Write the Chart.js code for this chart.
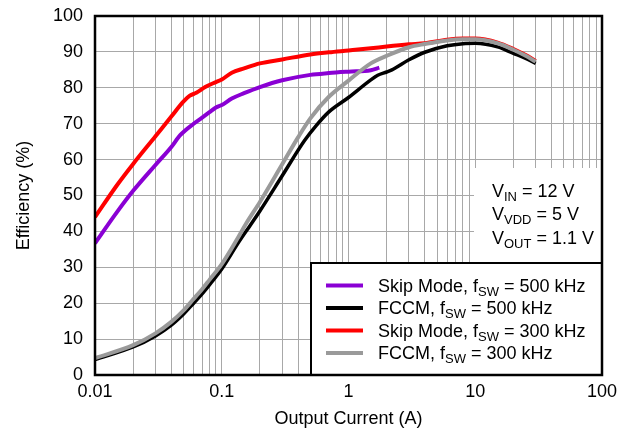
<!DOCTYPE html>
<html>
<head>
<meta charset="utf-8">
<script src="https://cdn.jsdelivr.net/npm/chart.js@4.4.1/dist/chart.umd.min.js"></script>
<style>
  body { margin: 0; background: #fff; }
  #wrap { width: 628px; height: 430px; }
</style>
</head>
<body>
<div id="wrap"><canvas id="chart" width="628" height="430"></canvas></div>
<script>
// data (A, %)
const skip500Current = [0.01, 0.015, 0.02, 0.03, 0.04, 0.047, 0.06, 0.07, 0.08, 0.09, 0.1, 0.12, 0.15, 0.2, 0.3, 0.5, 0.7, 1, 1.5, 1.75];
const skip500Eff     = [36.7, 45.5, 51.3, 58.5, 63.5, 66.8, 70, 71.7, 73.2, 74.5, 75.2, 77, 78.5, 80.2, 82.1, 83.6, 84.1, 84.5, 84.9, 85.6];

const fccm500Current = [0.01, 0.02, 0.03, 0.04, 0.05, 0.06, 0.07, 0.08, 0.1, 0.135, 0.167, 0.2, 0.3, 0.45, 0.56, 0.7, 1, 1.5, 1.7, 2, 2.2, 3, 4, 6, 8, 10, 15, 20, 25, 30];
const fccm500Eff     = [4.3, 7.8, 10.9, 13.9, 17, 20, 22.6, 25.1, 29.5, 36.8, 41.6, 45.7, 55.5, 65.3, 69.6, 73.3, 77.3, 82.2, 83.5, 84.4, 85, 87.8, 89.9, 91.7, 92.3, 92.4, 91.4, 89.6, 88.2, 86.8];

const skip300Current = [0.01, 0.015, 0.02, 0.03, 0.04, 0.05, 0.056, 0.063, 0.074, 0.09, 0.1, 0.12, 0.15, 0.2, 0.3, 0.5, 0.7, 1, 1.5, 2, 3, 4, 6, 8, 10, 15, 20, 25, 30];
const skip300Eff     = [44, 53, 58.8, 66.5, 72, 76.2, 77.8, 78.6, 80.2, 81.6, 82.3, 84.2, 85.4, 86.8, 87.9, 89.3, 89.9, 90.4, 91, 91.5, 92.1, 92.4, 93.4, 93.7, 93.7, 92.6, 90.8, 89.1, 87.5];

const fccm300Current = [0.01, 0.02, 0.03, 0.04, 0.05, 0.06, 0.07, 0.08, 0.1, 0.131, 0.157, 0.2, 0.3, 0.4, 0.5, 0.7, 1, 1.5, 2, 3, 4, 6, 8, 10, 15, 20, 25, 30];
const fccm300Eff     = [4.7, 8.3, 11.6, 14.8, 18, 21.2, 23.9, 26.5, 30.9, 37.6, 42.4, 48.2, 58.7, 66.2, 71.5, 77.5, 82, 86.8, 88.9, 91.3, 92.2, 93.2, 93.5, 93.5, 92.4, 90.6, 88.9, 87.3];

const xTickLabels = [0.01, 0.1, 1, 10, 100];
const yTicks = [0, 10, 20, 30, 40, 50, 60, 70, 80, 90, 100];

const legendItems = [
  { color: '#8a00d4', parts: [['Skip Mode, f', 0], ['SW', 1], [' = 500 kHz', 0]] },
  { color: '#000000', parts: [['FCCM, f', 0], ['SW', 1], [' = 500 kHz', 0]] },
  { color: '#ff0000', parts: [['Skip Mode, f', 0], ['SW', 1], [' = 300 kHz', 0]] },
  { color: '#9a9a9a', parts: [['FCCM, f', 0], ['SW', 1], [' = 300 kHz', 0]] }
];
const conditions = [
  [['V', 0], ['IN', 1], [' = 12 V', 0]],
  [['V', 0], ['VDD', 1], [' = 5 V', 0]],
  [['V', 0], ['OUT', 1], [' = 1.1 V', 0]]
];

const FONT = 'Arial, "Liberation Sans", sans-serif';
const pts = (xs, ys) => xs.map((x, i) => ({ x: x, y: ys[i] }));

function drawParts(ctx, parts, x, y) {
  parts.forEach(p => {
    ctx.font = p[1] ? '13px ' + FONT : '18px ' + FONT;
    ctx.fillText(p[0], x, p[1] ? y + 4 : y);
    x += ctx.measureText(p[0]).width;
  });
}

const overlay = {
  id: 'overlay',
  afterDatasetsDraw(chart) {
    const ctx = chart.ctx;
    const a = chart.chartArea;
    ctx.save();
    ctx.textBaseline = 'alphabetic';
    ctx.textAlign = 'left';

    // conditions box
    ctx.fillStyle = '#fff';
    ctx.fillRect(a.right - 128, a.top + 152, 128, 96);
    ctx.fillStyle = '#000';
    conditions.forEach((c, i) => drawParts(ctx, c, a.right - 110, a.top + 181 + i * 23.3));

    // legend box
    const lx = a.right - 291, ly = a.bottom - 112;
    ctx.fillStyle = '#fff';
    ctx.fillRect(lx, ly, 291, 112);
    ctx.lineWidth = 2;
    ctx.strokeStyle = '#000';
    ctx.strokeRect(lx, ly, 291, 112);
    legendItems.forEach((it, i) => {
      const yy = ly + 22.5 + i * 22.5;
      ctx.strokeStyle = it.color;
      ctx.lineWidth = 4;
      ctx.beginPath();
      ctx.moveTo(lx + 15, yy);
      ctx.lineTo(lx + 52, yy);
      ctx.stroke();
      ctx.fillStyle = '#000';
      drawParts(ctx, it.parts, lx + 67, yy + 6);
    });

    // plot frame
    ctx.strokeStyle = '#000';
    ctx.lineWidth = 2.5;
    ctx.strokeRect(a.left, a.top, a.right - a.left, a.bottom - a.top);
    ctx.restore();
  }
};

const ds = (label, data, color, width, order) => ({
  label: label,
  data: data,
  borderColor: color,
  backgroundColor: color,
  borderWidth: width,
  pointRadius: 0,
  fill: false,
  cubicInterpolationMode: 'monotone',
  order: order
});

new Chart(document.getElementById('chart'), {
  type: 'line',
  data: {
    datasets: [
      ds('Skip Mode, fSW = 500 kHz', pts(skip500Current, skip500Eff), '#8a00d4', 4, 3),
      ds('FCCM, fSW = 500 kHz', pts(fccm500Current, fccm500Eff), '#000000', 3.5, 1),
      ds('Skip Mode, fSW = 300 kHz', pts(skip300Current, skip300Eff), '#ff0000', 4, 2),
      ds('FCCM, fSW = 300 kHz', pts(fccm300Current, fccm300Eff), '#9a9a9a', 4, 0)
    ]
  },
  options: {
    responsive: false,
    animation: false,
    layout: { padding: { top: 16, right: 26, left: 0, bottom: 0 } },
    plugins: { legend: { display: false }, tooltip: { enabled: false } },
    scales: {
      x: {
        type: 'logarithmic',
        min: 0.01,
        max: 100,
        afterBuildTicks(scale) {
          const t = [];
          for (let e = -2; e < 2; e++) {
            for (let m = 1; m < 10; m++) t.push({ value: +(m * Math.pow(10, e)).toPrecision(3) });
          }
          t.push({ value: 100 });
          scale.ticks = t;
        },
        afterFit(scale) { scale.height = 55; },
        ticks: {
          autoSkip: false,
          maxRotation: 0,
          padding: 6,
          color: '#000',
          font: { family: FONT, size: 18 },
          callback: (v) => xTickLabels.includes(v) ? String(v) : ''
        },
        grid: { color: '#a8a8a8', lineWidth: 1, drawTicks: false },
        border: { display: false },
        title: {
          display: true,
          text: 'Output Current (A)',
          color: '#000',
          font: { family: FONT, size: 18 },
          padding: { top: 0, bottom: 0 }
        }
      },
      y: {
        min: 0,
        max: 100,
        afterBuildTicks(scale) { scale.ticks = yTicks.map(v => ({ value: v })); },
        afterFit(scale) { scale.width = 95; },
        ticks: {
          padding: 2,
          color: '#000',
          font: { family: FONT, size: 18 }
        },
        grid: { color: '#a8a8a8', lineWidth: 1, drawTicks: true, tickLength: 10, tickColor: 'rgba(0,0,0,0)' },
        border: { display: false },
        title: {
          display: true,
          text: 'Efficiency (%)',
          color: '#000',
          font: { family: FONT, size: 18 },
          padding: { top: 13, bottom: 0 }
        }
      }
    }
  },
  plugins: [overlay]
});
</script>
</body>
</html>
